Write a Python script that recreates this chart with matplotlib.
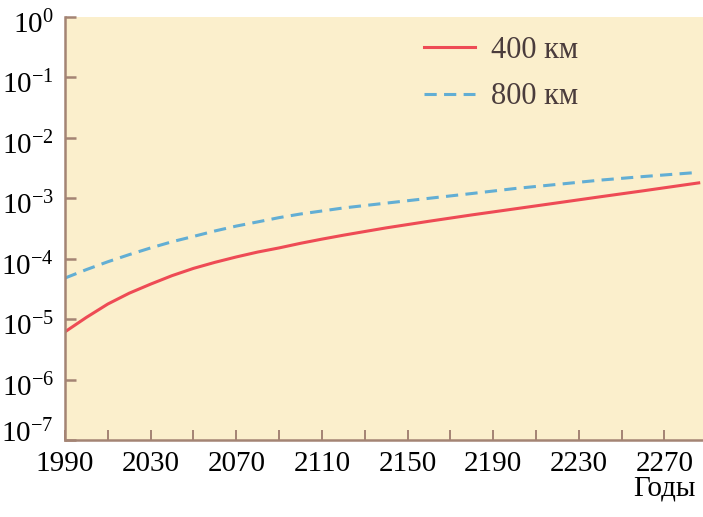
import numpy as np
import matplotlib
matplotlib.use("Agg")
import matplotlib.pyplot as plt
import matplotlib.transforms as mtransforms
from matplotlib.ticker import FixedLocator, NullFormatter

plt.rcParams['font.family'] = ['Liberation Serif', 'DejaVu Serif']
plt.rcParams['mathtext.fontset'] = 'custom'
plt.rcParams['mathtext.rm'] = 'Liberation Serif'
plt.rcParams['mathtext.it'] = 'Liberation Serif'

# годы и вероятности для двух высот орбиты
years = [1990, 2000, 2010, 2020, 2030, 2040, 2050, 2060, 2070, 2080, 2090, 2100,
         2110, 2120, 2130, 2140, 2160, 2180, 2200, 2220, 2240, 2260, 2286]
p400 = [6.17e-6, 1.07e-5, 1.78e-5, 2.69e-5, 3.80e-5, 5.25e-5, 6.92e-5, 8.71e-5,
        1.07e-4, 1.29e-4, 1.51e-4, 1.80e-4, 2.11e-4, 2.45e-4, 2.82e-4, 3.24e-4,
        4.17e-4, 5.31e-4, 6.68e-4, 8.41e-4, 1.06e-3, 1.33e-3, 1.80e-3]
p800 = [4.79e-5, 6.61e-5, 8.91e-5, 1.17e-4, 1.51e-4, 1.91e-4, 2.34e-4, 2.88e-4,
        3.47e-4, 4.07e-4, 4.79e-4, 5.50e-4, 6.17e-4, 6.92e-4, 7.59e-4, 8.32e-4,
        1.00e-3, 1.20e-3, 1.45e-3, 1.70e-3, 2.00e-3, 2.29e-3, 2.69e-3]

xticks = [1990, 2030, 2070, 2110, 2150, 2190, 2230, 2270]
xminor = [2010, 2050, 2090, 2130, 2170, 2210, 2250]
yticks = [1e0, 1e-1, 1e-2, 1e-3, 1e-4, 1e-5, 1e-6, 1e-7]
ylabels = ['$10^{0}$', '$10^{-1}$', '$10^{-2}$', '$10^{-3}$',
           '$10^{-4}$', '$10^{-5}$', '$10^{-6}$', '$10^{-7}$']

bg = '#fbefcc'
edge = '#a48474'

fig = plt.figure(figsize=(7.03, 5.17), dpi=100)
ax = fig.add_axes([0.0925, 0.149, 0.9075, 0.818])
ax.set_facecolor(bg)

ax.plot(years, p400, color='#ee4b55', lw=2.2, label='400 км')
ax.plot(years, p800, color='#62aed4', lw=2.2, dashes=(4, 2.4), label='800 км')

ax.set_yscale('log')
ax.set_xlim(1990, 2288)
ax.set_ylim(1e-7, 1e0)

ax.yaxis.set_major_locator(FixedLocator(yticks))
ax.set_yticklabels(ylabels)
ax.yaxis.set_minor_locator(FixedLocator([]))
ax.set_xticks(xticks)
ax.set_xticklabels([str(y) for y in xticks])
ax.xaxis.set_minor_locator(FixedLocator(xminor))
ax.xaxis.set_minor_formatter(NullFormatter())

for s in ['top', 'right']:
    ax.spines[s].set_visible(False)
for s in ['left', 'bottom']:
    ax.spines[s].set_color(edge)
    ax.spines[s].set_linewidth(1.8)

ax.tick_params(axis='y', which='major', direction='in', length=8, width=1.8,
               color=edge, labelsize=21, pad=8)
ax.tick_params(axis='x', which='both', direction='in', length=7, width=1.4,
               color=edge, labelsize=21, pad=8)

# подписи оси y чуть ниже рисок, нижнюю - выше, чтобы не налезала на 1990
ylabs = ax.get_yticklabels()
for i, lab in enumerate(ylabs):
    dy = 9 if i == len(ylabs) - 1 else -5
    shift = mtransforms.ScaledTranslation(0, dy / 100, fig.dpi_scale_trans)
    lab.set_transform(lab.get_transform() + shift)

fig.text(0.99, 0.03, 'Годы', fontsize=21, ha='right', va='bottom')

leg = ax.legend(loc='upper left', bbox_to_anchor=(0.563, 0.956), frameon=False,
                fontsize=22, handlelength=1.65, handletextpad=0.55,
                labelspacing=0.58, borderpad=0, borderaxespad=0)
for t in leg.get_texts():
    t.set_color('#4a3c3c')

fig.savefig('out.png', dpi=100, facecolor='white')
